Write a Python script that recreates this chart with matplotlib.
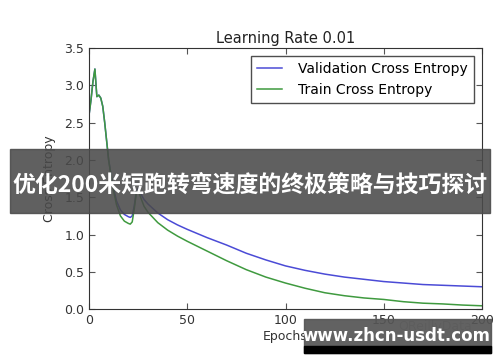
import matplotlib
matplotlib.use("Agg")
import matplotlib.pyplot as plt
from matplotlib.patches import Rectangle

# epochs and loss values
epochs = [0, 1, 2, 3, 4, 5, 6, 7, 8, 9, 10, 12, 14, 16, 18, 20, 21, 22, 23, 24,
          25, 26, 28, 30, 35, 40, 45, 50, 60, 70, 80, 90, 100, 110, 120, 130,
          140, 150, 160, 170, 180, 190, 200]
val_loss = [2.6, 2.8, 3.05, 3.22, 2.85, 2.87, 2.83, 2.72, 2.5, 2.25, 2.0, 1.68,
            1.45, 1.33, 1.27, 1.24, 1.23, 1.25, 1.38, 1.56, 1.62, 1.56, 1.47,
            1.41, 1.29, 1.2, 1.13, 1.07, 0.96, 0.86, 0.75, 0.66, 0.58, 0.52,
            0.47, 0.43, 0.4, 0.37, 0.35, 0.33, 0.32, 0.31, 0.3]
train_loss = [2.6, 2.8, 3.05, 3.22, 2.85, 2.87, 2.83, 2.72, 2.5, 2.25, 2.0,
              1.65, 1.4, 1.25, 1.18, 1.15, 1.14, 1.17, 1.34, 1.54, 1.6, 1.52,
              1.38, 1.3, 1.16, 1.06, 0.98, 0.91, 0.78, 0.65, 0.53, 0.43, 0.35,
              0.28, 0.22, 0.18, 0.15, 0.13, 0.1, 0.08, 0.07, 0.055, 0.045]

title = "Learning Rate 0.01"
banner = "优化200米短跑转弯速度的终极策略与技巧探讨"
site = "www.zhcn-usdt.com"

fig = plt.figure(figsize=(5, 3.62), dpi=100)
ax = fig.add_axes([0.178, 0.146, 0.786, 0.721])

ax.plot(epochs, val_loss, color="#4b4bd6", lw=1.1, label="Validation Cross Entropy")
ax.plot(epochs, train_loss, color="#3f9a3f", lw=1.1, label="Train Cross Entropy")

ax.set_xlim(0, 200)
ax.set_ylim(0, 3.5)
ax.set_xticks([0, 50, 100, 150, 200])
ax.set_yticks([0, 0.5, 1, 1.5, 2, 2.5, 3, 3.5])
ax.set_title(title, fontsize=10.5, color="#222222", pad=4)
ax.set_xlabel("Epochs", fontsize=9, color="#333333", labelpad=2)
ax.set_ylabel("Cross Entropy", fontsize=9, color="#333333", labelpad=6)
ax.tick_params(direction="in", top=True, right=True, labelsize=9,
               labelcolor="#333333", color="#555555", length=4)
for s in ax.spines.values():
    s.set_color("#333333")

leg = ax.legend(loc="upper right", fontsize=10, frameon=True, fancybox=False,
                handlelength=1.8, borderaxespad=0.6, handletextpad=1.2)
leg.get_frame().set_edgecolor("#222222")

# overlay banner across the middle
fig.patches.append(Rectangle((0.02, 0.412), 0.96, 0.177, transform=fig.transFigure,
                             color="#4a4a4a", alpha=0.88, zorder=10))
fig.text(0.5, 0.488, banner, color="white", fontsize=16.5, fontweight="bold",
         family=["Noto Sans CJK SC", "DejaVu Sans"], ha="center", va="center",
         zorder=11)

# faint source watermark
fig.text(0.87, 0.097, "OReillyData", color="#bbbbbb", fontsize=9, ha="center",
         va="center", zorder=9)

# site watermark box
fig.patches.append(Rectangle((0.608, 0.025), 0.374, 0.094, transform=fig.transFigure,
                             color="#555555", alpha=0.92, zorder=10))
fig.patches.append(Rectangle((0.608, 0.025), 0.374, 0.02, transform=fig.transFigure,
                             color="black", zorder=10))
fig.text(0.792, 0.071, site, color="white", fontsize=12, fontweight="bold",
         ha="center", va="center", zorder=11)

fig.savefig("out.png", dpi=100, facecolor="white")
